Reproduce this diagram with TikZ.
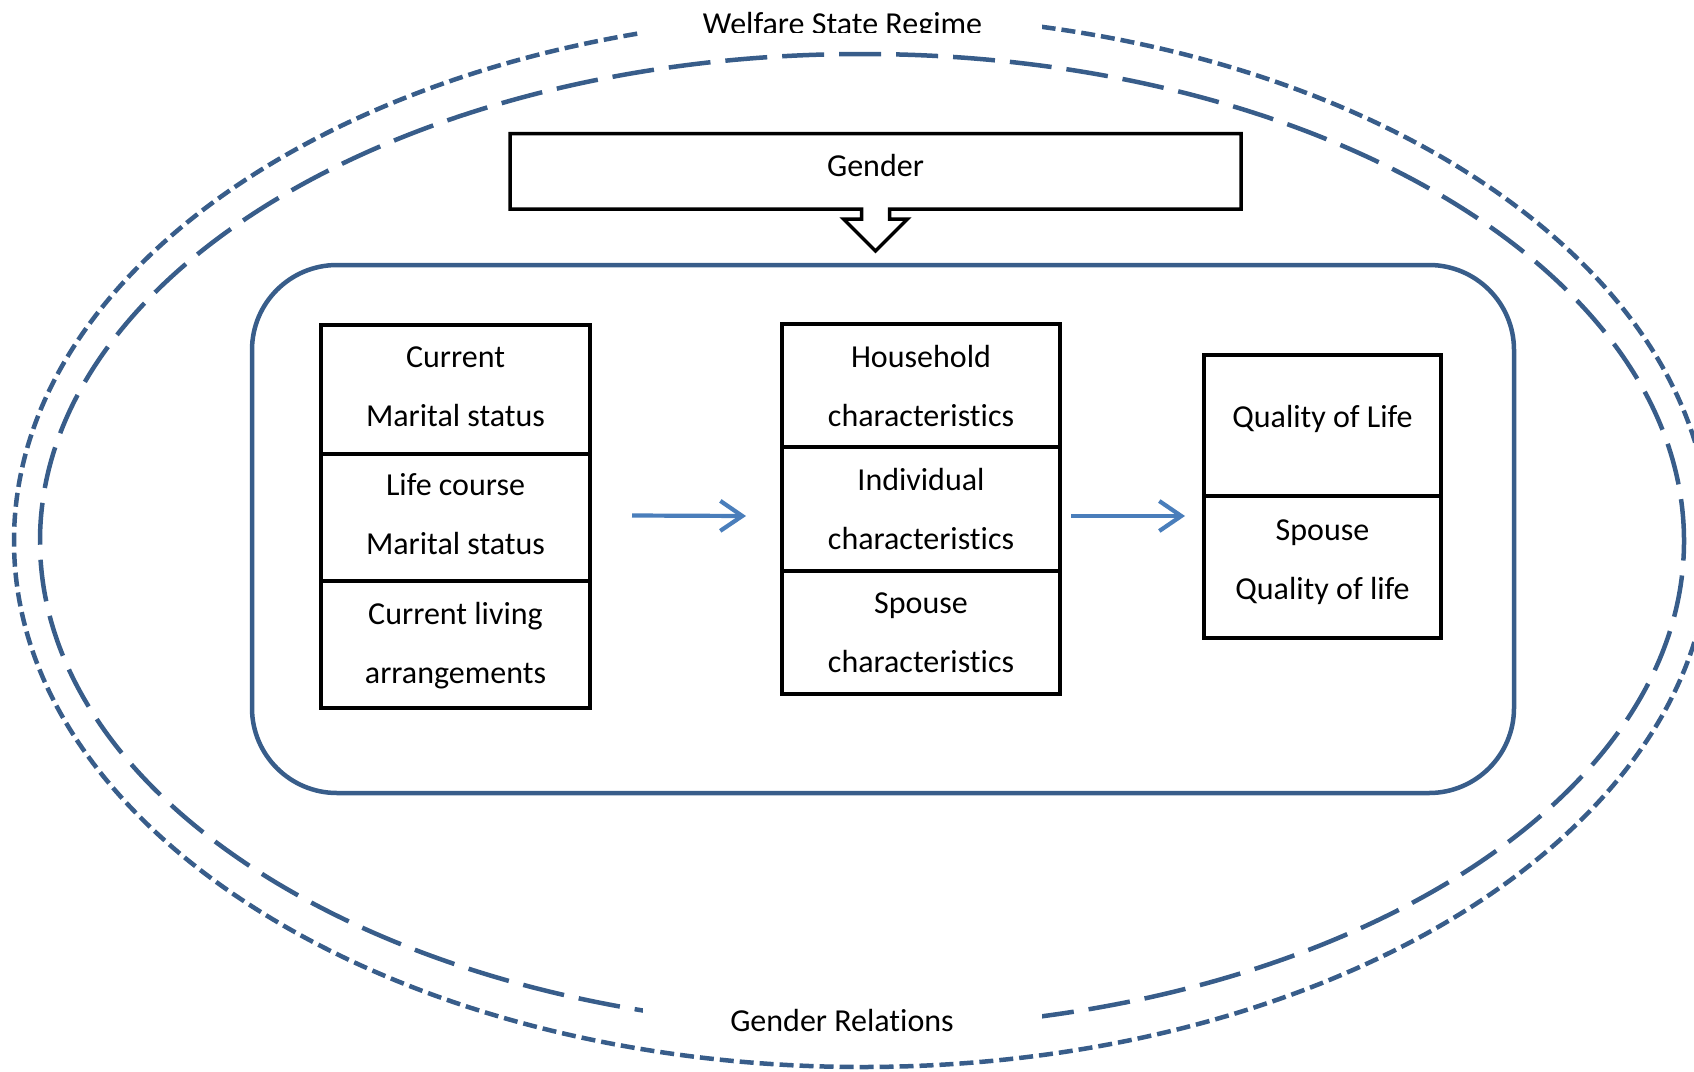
\documentclass[tikz,border=0pt]{standalone}
\usepackage{fontspec}
\setmainfont{Carlito}[Ligatures=NoCommon]
\usetikzlibrary{arrows.meta,calc}
\definecolor{framec}{HTML}{385D8A}
\definecolor{flowc}{HTML}{4A7EBB}
\begin{document}
\begin{tikzpicture}[x=1pt,y=-1pt,
  txt/.style={font=\fontsize{32}{59}\selectfont, inner sep=0pt, align=center, anchor=north},
  lbl/.style={font=\fontsize{32}{38}\selectfont, inner sep=0pt, anchor=base},
  cell/.style={draw=black, line width=3.5pt, inner sep=0pt, outer sep=0pt, anchor=north west},
  ring/.style={draw=framec, line width=4.5pt},
  flow/.style={draw=flowc, line width=4.2pt, -{Straight Barb[length=22pt,width=30pt]}},
  cover/.style={fill=white, inner sep=0pt, outer sep=0pt, anchor=north west},
]
\useasboundingbox (0,0) rectangle (1694,1071);
\clip (0,0) rectangle (1694,1071);

% context ellipses
\draw[ring, dash pattern=on 14pt off 6pt] (862,541) ellipse [x radius=848pt, y radius=526pt];
\draw[ring, dash pattern=on 42pt off 15pt] (862,541) ellipse [x radius=822pt, y radius=487pt];

% labels on the ellipses
\node[cover, minimum width=404pt, minimum height=37pt] (welfarebox) at (638,0) {};
\begin{scope}
  \clip (638,0) rectangle (1042,32);
  \node[lbl] (welfare) at (842.5,34) {Welfare State Regime};
\end{scope}
\node[cover, minimum width=399pt, minimum height=55pt] (relbox) at (643,987) {};
\node[lbl] (relations) at (842,1031) {Gender Relations};

% inner rounded panel
\node[draw=framec, line width=4.5pt, rounded corners=85pt, minimum width=1262pt,
      minimum height=528pt, inner sep=0pt, outer sep=0pt, anchor=north west] (panel) at (252,265) {};

% Gender box with down-arrow callout
\node[minimum width=731pt, minimum height=75.5pt, inner sep=0pt, outer sep=0pt, anchor=north west,
      font=\fontsize{32}{38}\selectfont, text height=10pt, text depth=0pt] (gender) at (510,133.5) {Gender};
\draw[black, line width=3.5pt, miter limit=4]
  (gender.north west) -- (gender.north east) -- (gender.south east)
  -- ($(gender.south)+(14,0)$) -- ++(0,10) -- ++(18,0) -- ++(-32,32)
  -- ++(-32,-32) -- ++(18,0) -- ++(0,-10) -- (gender.south west) -- cycle;

% left column
\node[cell, minimum width=269pt, minimum height=129pt] (L1) at (321,325) {};
\node[cell, minimum width=269pt, minimum height=127pt] (L2) at (321,454) {};
\node[cell, minimum width=269pt, minimum height=127pt] (L3) at (321,581) {};
\node[txt] (L1t) at (455.5,342) {\rule{0pt}{25pt}Current\\Marital status};
\node[txt] (L2t) at (455.5,470) {\rule{0pt}{25pt}Life course\\Marital status};
\node[txt] (L3t) at (455.5,599) {\rule{0pt}{25pt}Current living\\arrangements};

% middle column
\node[cell, minimum width=278pt, minimum height=123pt] (M1) at (782,324) {};
\node[cell, minimum width=278pt, minimum height=124pt] (M2) at (782,447) {};
\node[cell, minimum width=278pt, minimum height=123pt] (M3) at (782,571) {};
\node[txt] (M1t) at (921,342) {\rule{0pt}{25pt}Household\\characteristics};
\node[txt] (M2t) at (921,465) {\rule{0pt}{25pt}Individual\\characteristics};
\node[txt] (M3t) at (921,588) {\rule{0pt}{25pt}Spouse\\characteristics};

% right column
\node[cell, minimum width=237pt, minimum height=141pt] (R1) at (1204,355) {};
\node[cell, minimum width=237pt, minimum height=142pt] (R2) at (1204,496) {};
\node[lbl] (R1t) at (1322.5,427) {Quality of Life};
\node[txt] (R2t) at (1322.5,515) {\rule{0pt}{25pt}Spouse\\Quality of life};

% flow arrows
\draw[flow] ($(L2.east)+(42,-2)$) -- ($(M2.west)+(-36,7)$);
\draw[flow] ($(M2.east)+(11,7)$) -- ($(R1.south west)+(-19,20)$);
\end{tikzpicture}
\end{document}
